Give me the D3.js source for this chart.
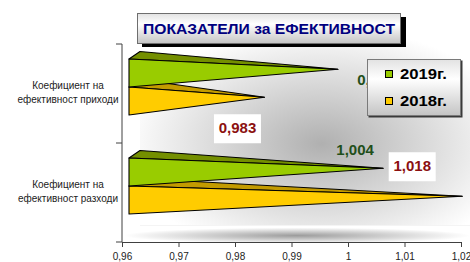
<!DOCTYPE html>
<html>
<head>
<meta charset="utf-8">
<script src="https://cdn.jsdelivr.net/npm/d3@7/dist/d3.min.js"></script>
<style>
  body { margin: 0; background: #fff; }
  svg { display: block; font-family: "Liberation Sans", Arial, sans-serif; }
</style>
</head>
<body>
<svg></svg>
<script>
const title = 'ПОКАЗАТЕЛИ за ЕФЕКТИВНОСТ';
const categories = ['приходи', 'разходи'];
const categoryLines = [
  ['Коефициент на', 'ефективност приходи'],
  ['Коефициент на', 'ефективност разходи'],
];
const seriesNames = ['2019г.', '2018г.'];
const values2019 = [0.996, 1.004];
const values2018 = [0.983, 1.018];
const tickValues = [0.96, 0.97, 0.98, 0.99, 1, 1.01, 1.02];

const width = 470;
const height = 262;
const colors = {
  '2019г.': {front: '#99cc00', top: '#748f00', label: '#1f4f1a'},
  '2018г.': {front: '#ffcc00', top: '#c39b00', label: '#8b1010'},
};
// where each data label sits relative to its pyramid tip (moved by hand in the original)
const labelNudge = [[38, 16], [-27, 36], [-28, -13], [-50, -25]];

const bg = d3.formatLocale({decimal: ',', thousands: ' ', grouping: [3], currency: ['', '']});
const tickFormat = bg.format('~g');
const valueFormat = bg.format('.3f');

const svg = d3.select('svg')
    .attr('width', width)
    .attr('height', height);

const x = d3.scaleLinear().domain([0.96, 1.02]).range([122, 461]);
const y = d3.scaleBand().domain(categories).range([44, 242]);
const inner = d3.scaleBand().domain(seriesNames).range([15, 71]);
const depth = {front: 7, dx: 11, dy: -7.5};

const defs = svg.append('defs');
const wall = defs.append('radialGradient').attr('id', 'wall')
    .attr('cx', '0.55').attr('cy', '0.58').attr('r', '0.6');
wall.append('stop').attr('offset', '0').attr('stop-color', '#b0b0b0');
wall.append('stop').attr('offset', '1').attr('stop-color', '#ffffff');
const floor = defs.append('radialGradient').attr('id', 'floor')
    .attr('cx', '0.5').attr('cy', '0.6').attr('r', '0.5');
floor.append('stop').attr('offset', '0').attr('stop-color', '#9c9c9c');
floor.append('stop').attr('offset', '1').attr('stop-color', '#ffffff');
const boxFill = defs.append('linearGradient').attr('id', 'box')
    .attr('x1', 0).attr('y1', 0).attr('x2', 0).attr('y2', 1);
boxFill.append('stop').attr('offset', '0').attr('stop-color', '#e2e2e2');
boxFill.append('stop').attr('offset', '0.35').attr('stop-color', '#ffffff');
boxFill.append('stop').attr('offset', '1').attr('stop-color', '#c4c4c4');

// back wall and floor
svg.append('rect')
    .attr('x', x(0.96) + 18).attr('y', 30)
    .attr('width', width - x(0.96) - 18).attr('height', 196)
    .attr('fill', 'url(#wall)');
svg.append('rect')
    .attr('x', x(0.96) + 2).attr('y', 226)
    .attr('width', width - x(0.96) - 2).attr('height', 16)
    .attr('fill', 'url(#floor)');
svg.append('line')
    .attr('x1', x(0.96) + 18).attr('x2', width)
    .attr('y1', 225.5).attr('y2', 225.5)
    .attr('stroke', '#f4f4f4');

// axes
const xAxis = svg.append('g')
    .attr('transform', `translate(0,${y.range()[1]})`)
    .call(d3.axisBottom(x).tickValues(tickValues).tickFormat(tickFormat)
        .tickSize(5).tickSizeOuter(0));
xAxis.select('.domain').attr('stroke', '#404040');
xAxis.selectAll('.tick line').attr('stroke', '#404040');
xAxis.selectAll('.tick text')
    .attr('font-size', 10).attr('fill', '#222').attr('dy', '0.95em')
    .attr('font-family', '"Liberation Sans", Arial, sans-serif');

const yAxis = svg.append('g');
yAxis.append('line')
    .attr('x1', x(0.96)).attr('x2', x(0.96))
    .attr('y1', y.range()[0]).attr('y2', y.range()[1])
    .attr('stroke', '#404040');
yAxis.selectAll('.ytick')
    .data([y.range()[0]].concat(categories.map((c) => y(c) + y.bandwidth())))
    .join('line')
    .attr('class', 'ytick')
    .attr('x1', x(0.96) - 6).attr('x2', x(0.96))
    .attr('y1', (d) => d).attr('y2', (d) => d)
    .attr('stroke', '#404040');
yAxis.selectAll('.ylabel')
    .data(categories)
    .join('text')
    .attr('class', 'ylabel')
    .attr('text-anchor', 'middle')
    .attr('font-size', 10)
    .attr('fill', '#222')
    .each(function(c, i) {
      const t = d3.select(this);
      categoryLines[i].forEach((line, k) => {
        t.append('tspan')
            .attr('x', 68)
            .attr('y', y(c) + y.bandwidth() / 2 - 5 + k * 14)
            .text(line);
      });
    });

// pyramids
const bars = [];
categories.forEach((c, i) => {
  bars.push({cat: c, series: '2018г.', value: values2018[i], idx: i * 2 + 1});
  bars.push({cat: c, series: '2019г.', value: values2019[i], idx: i * 2});
});
bars.forEach((b) => {
  const y0 = y(b.cat) + inner(b.series);
  const y1 = y0 + inner.bandwidth();
  const x0 = x(0.96) + depth.front;
  b.tip = [x(b.value) + depth.front + depth.dx / 2, (y0 + y1) / 2 + depth.dy / 2];
  b.topFace = [[x0, y0], [x0 + depth.dx, y0 + depth.dy], b.tip];
  b.frontFace = [[x0, y0], [x0, y1], b.tip];
});

const line = d3.line();
const barG = svg.selectAll('.bar')
    .data(bars)
    .join('g')
    .attr('class', 'bar');
barG.append('path')
    .attr('d', (b) => line(b.topFace) + 'Z')
    .attr('fill', (b) => colors[b.series].top)
    .attr('stroke', '#000')
    .attr('stroke-width', 1.1)
    .attr('stroke-linejoin', 'round');
barG.append('path')
    .attr('d', (b) => line(b.frontFace) + 'Z')
    .attr('fill', (b) => colors[b.series].front)
    .attr('stroke', '#000')
    .attr('stroke-width', 1.1)
    .attr('stroke-linejoin', 'round');

// data labels
const labels = svg.selectAll('.dlabel')
    .data(bars.slice().sort((a, b) => a.idx - b.idx))
    .join('g')
    .attr('class', 'dlabel')
    .attr('transform', (b) =>
      `translate(${b.tip[0] + labelNudge[b.idx][0]},${b.tip[1] + labelNudge[b.idx][1]})`);
labels.filter((b) => b.series === '2018г.')
    .append('rect')
    .attr('x', -23.5).attr('y', -19)
    .attr('width', 47).attr('height', 29)
    .attr('fill', '#fff');
labels.append('text')
    .attr('text-anchor', 'middle')
    .attr('font-size', 15)
    .attr('font-weight', 'bold')
    .attr('fill', (b) => colors[b.series].label)
    .text((b) => valueFormat(b.value));

// legend
const legend = svg.append('g').attr('transform', 'translate(367,59)');
legend.append('rect')
    .attr('x', 1.5).attr('y', 1.5).attr('width', 94).attr('height', 57)
    .attr('fill', '#3a3a3a');
legend.append('rect')
    .attr('x', 0.5).attr('y', 0.5).attr('width', 93).attr('height', 56)
    .attr('fill', 'url(#box)').attr('stroke', '#7a7a7a');
const legendItem = legend.selectAll('.item')
    .data(seriesNames)
    .join('g')
    .attr('class', 'item')
    .attr('transform', (d, i) => `translate(18,${11 + i * 27})`);
legendItem.append('rect')
    .attr('x', 0.5).attr('y', 0.5).attr('width', 7).attr('height', 7)
    .attr('fill', (d) => colors[d].front)
    .attr('stroke', '#000');
legendItem.append('text')
    .attr('x', 15).attr('y', 8.5)
    .attr('font-size', 14)
    .attr('font-weight', 'bold')
    .attr('fill', '#000')
    .attr('textLength', 47)
    .attr('lengthAdjust', 'spacingAndGlyphs')
    .text((d) => d);

// title box
const head = svg.append('g').attr('transform', 'translate(137,13)');
head.append('rect')
    .attr('x', 5).attr('y', 4).attr('width', 264).attr('height', 30)
    .attr('fill', '#000');
head.append('rect')
    .attr('x', 0.5).attr('y', 0.5).attr('width', 263).attr('height', 30)
    .attr('fill', 'url(#box)').attr('stroke', '#6e6e6e');
head.append('text')
    .attr('x', 132).attr('y', 20.5)
    .attr('text-anchor', 'middle')
    .attr('font-size', 15)
    .attr('font-weight', 'bold')
    .attr('fill', '#000080')
    .attr('textLength', 252)
    .attr('lengthAdjust', 'spacingAndGlyphs')
    .text(title);
</script>
</body>
</html>
